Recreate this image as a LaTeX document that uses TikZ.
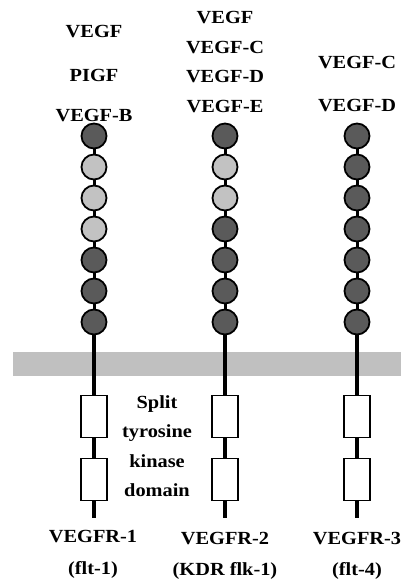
\documentclass[tikz,border=0pt]{standalone}
\usepackage{fontspec}
\setmainfont{Liberation Serif}[FakeStretch=1.1]
\begin{document}
\begin{tikzpicture}[x=1pt,y=-1pt,
  dom/.style={circle,draw=black,line width=1.8pt,minimum size=25pt,inner sep=0pt},
  dk/.style={dom,fill=dkgray},
  lt/.style={dom,fill=ltgray},
  kbox/.style={draw=black,line width=1.8pt,fill=white,minimum width=26pt,minimum height=42pt,inner sep=0pt},
  stem/.style={line width=4.2pt,black},
  lbl/.style={font=\fontsize{18.5}{20}\selectfont\bfseries,inner sep=0pt,anchor=center}
]
\definecolor{dkgray}{HTML}{5A5A5A}
\definecolor{ltgray}{HTML}{C2C2C2}
\definecolor{memb}{HTML}{C0C0C0}
\useasboundingbox (0,0) rectangle (401,580);
% membrane
\fill[memb] (13,352) rectangle (401,376);
% receptors
\foreach \c/\x/\s in {a/94/{dk,lt,lt,lt,dk,dk,dk}, b/225/{dk,lt,lt,dk,dk,dk,dk}, c/357/{dk,dk,dk,dk,dk,dk,dk}}{
  \coordinate (\c end) at (\x,518);
  \node[kbox] (\c k1) at (\x,416.5) {};
  \node[kbox] (\c k2) at (\x,479.5) {};
  \foreach \st [count=\i] in \s {
    \node[\st] (\c\i) at (\x,{136+31*(\i-1)}) {};
  }
  \foreach \i [evaluate=\i as \j using int(\i+1)] in {1,...,6}{
    \draw[stem,line width=3pt] (\c\i) -- (\c\j);
  }
  \draw[stem] (\c7) -- (\c k1);
  \draw[stem] (\c k1) -- (\c k2);
  \draw[stem] (\c k2) -- (\c end);
}
% ligand labels
\node[lbl] (l1a) at (94,32) {VEGF};
\node[lbl] (l1b) at (94,75) {PIGF};
\node[lbl] (l1c) at (94,116) {VEGF-B};
\node[lbl] (l2a) at (225,18) {VEGF};
\node[lbl] (l2b) at (225,48) {VEGF-C};
\node[lbl] (l2c) at (225,77) {VEGF-D};
\node[lbl] (l2d) at (225,107) {VEGF-E};
\node[lbl] (l3a) at (357,63) {VEGF-C};
\node[lbl] (l3b) at (357,106) {VEGF-D};
% kinase text
\node[lbl] (t1) at (157,404) {Split};
\node[lbl] (t2) at (157,433) {tyrosine};
\node[lbl] (t3) at (157,461) {kinase};
\node[lbl] (t4) at (157,490) {domain};
% receptor names
\node[lbl] (r1) at (93,537) {VEGFR-1};
\node[lbl] (r1b) at (93,570) {(flt-1)};
\node[lbl] (r2) at (225,539) {VEGFR-2};
\node[lbl] (r2b) at (225,571) {(KDR flk-1)};
\node[lbl] (r3) at (357,539) {VEGFR-3};
\node[lbl] (r3b) at (357,571) {(flt-4)};
\end{tikzpicture}
\end{document}
